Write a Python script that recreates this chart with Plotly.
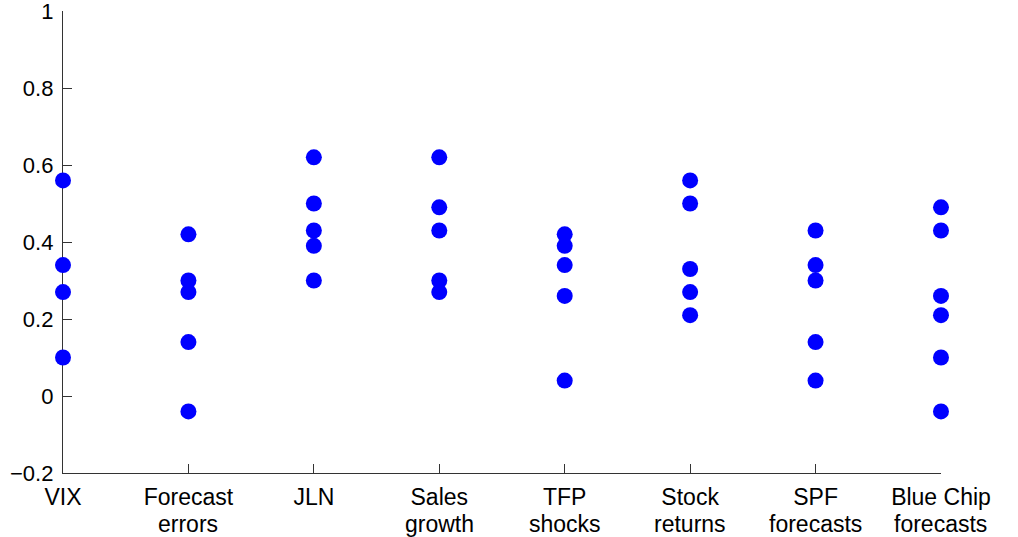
import plotly.graph_objects as go

line1 = ["VIX", "Forecast", "JLN", "Sales", "TFP", "Stock", "SPF", "Blue Chip"]
line2 = ["", "errors", "", "growth", "shocks", "returns", "forecasts", "forecasts"]
vix = [0.56, 0.34, 0.27, 0.10]
forecast_errors = [0.42, 0.30, 0.27, 0.14, -0.04]
jln = [0.62, 0.50, 0.43, 0.39, 0.30]
sales_growth = [0.62, 0.49, 0.43, 0.30, 0.27]
tfp_shocks = [0.42, 0.39, 0.34, 0.26, 0.04]
stock_returns = [0.56, 0.50, 0.33, 0.27, 0.21]
spf_forecasts = [0.43, 0.34, 0.30, 0.14, 0.04]
blue_chip = [0.49, 0.43, 0.26, 0.21, 0.10, -0.04]
series = [vix, forecast_errors, jln, sales_growth, tfp_shocks, stock_returns, spf_forecasts, blue_chip]

ytick_vals = [-0.2, 0, 0.2, 0.4, 0.6, 0.8, 1]
ytick_text = ["\u22120.2", "0", "0.2", "0.4", "0.6", "0.8", "1"]

xs, ys = [], []
for i, vals in enumerate(series):
    for v in vals:
        xs.append(i + 1)
        ys.append(v)

fig = go.Figure()
fig.add_trace(go.Scatter(
    x=xs, y=ys, mode="markers",
    marker=dict(color="#0000FF", size=16, line=dict(width=0)),
    cliponaxis=False, showlegend=False,
))

family = "Liberation Sans, Arial, Helvetica, sans-serif"
xfont = dict(family=family, size=23, color="#000000")
yfont = dict(family=family, size=22, color="#000000")

for i, t in enumerate(line2):
    if t:
        fig.add_annotation(
            x=i + 1, y=0, xref="x", yref="paper", text=t, showarrow=False,
            xanchor="center", yanchor="top", yshift=-36, font=xfont,
        )

fig.update_layout(
    width=1018, height=537,
    margin=dict(l=63, r=77, t=11, b=64),
    paper_bgcolor="white", plot_bgcolor="white",
    font=yfont,
    xaxis=dict(
        range=[1, 8.0001], tickvals=list(range(1, 9)), ticktext=line1,
        showline=True, linecolor="#333333", linewidth=1.3,
        ticks="inside", ticklen=9, tickcolor="#333333", tickwidth=1,
        showgrid=False, zeroline=False, layer="below traces",
        tickfont=xfont, automargin=False, ticklabelstandoff=3,
        ticklabeloverflow="allow",
    ),
    yaxis=dict(
        range=[-0.2, 1.0001], tickvals=ytick_vals, ticktext=ytick_text,
        showline=True, linecolor="#333333", linewidth=1.3,
        ticks="inside", ticklen=9, tickcolor="#333333", tickwidth=1,
        showgrid=False, zeroline=False, layer="below traces",
        tickfont=yfont, automargin=False, ticklabelstandoff=4,
        ticklabeloverflow="allow",
    ),
)
fig.write_html("out.html")
